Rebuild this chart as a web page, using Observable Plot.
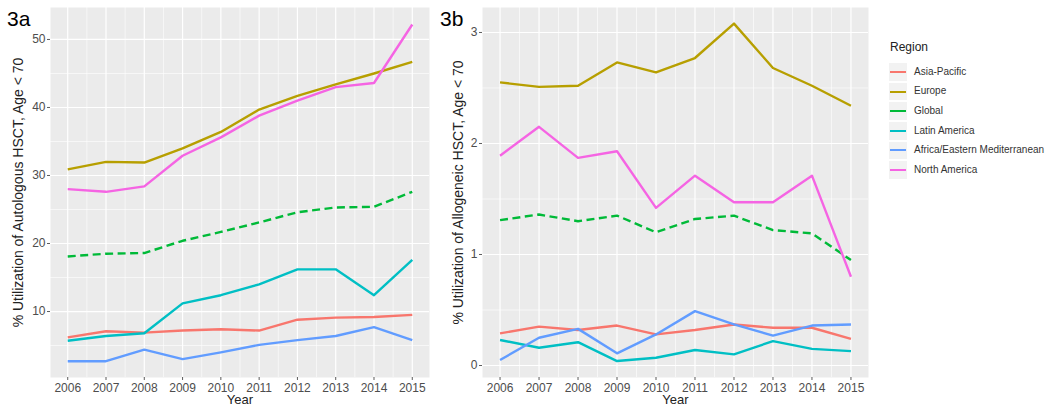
<!DOCTYPE html>
<html><head><meta charset="utf-8">
<script src="https://cdn.jsdelivr.net/npm/d3@7"></script>
<script src="https://cdn.jsdelivr.net/npm/@observablehq/plot@0.6"></script>
<style>
body{margin:0;background:#fff;font-family:"Liberation Sans",Arial,sans-serif;}
#wrap{position:relative;width:1050px;height:413px;overflow:hidden;background:#fff;}
.panel{position:absolute;top:0;}
.tag{position:absolute;top:8px;font-size:21px;line-height:21px;color:#000;}
#legend{position:absolute;left:888px;top:0;width:160px;height:413px;}
#legend .title{position:absolute;left:2px;top:40px;font-size:12px;color:#222;}
#legend .row{position:absolute;left:0;height:19.6px;width:160px;}
#legend .key{position:absolute;left:1px;top:1px;width:18px;height:17.6px;background:#F2F2F2;}
#legend .key span{position:absolute;left:1px;right:1px;top:7.8px;height:2px;}
#legend .lab{position:absolute;left:26px;top:3.5px;font-size:10px;color:#333;white-space:nowrap;}
</style></head><body>
<div id="wrap"></div>
<script>
const years = [2006, 2007, 2008, 2009, 2010, 2011, 2012, 2013, 2014, 2015];
const minorYears = [2006.5, 2007.5, 2008.5, 2009.5, 2010.5, 2011.5, 2012.5, 2013.5, 2014.5];
const regions = ["Asia-Pacific", "Europe", "Global", "Latin America", "Africa/Eastern Mediterranean", "North America"];
const regionColors = ["#F8766D", "#B79F00", "#00BA38", "#00BFC4", "#619CFF", "#F564E3"];

// 3a: autologous HSCT utilization (%)
const autoAsiaPacific = [6.2, 7.1, 6.9, 7.2, 7.4, 7.2, 8.8, 9.1, 9.2, 9.5];
const autoEurope      = [30.9, 32.0, 31.9, 34.0, 36.4, 39.7, 41.7, 43.4, 45.0, 46.7];
const autoGlobal      = [18.1, 18.5, 18.6, 20.4, 21.7, 23.1, 24.6, 25.3, 25.4, 27.6];
const autoLatinAm     = [5.7, 6.4, 6.8, 11.2, 12.4, 14.0, 16.2, 16.2, 12.4, 17.6];
const autoAfricaEMed  = [2.7, 2.7, 4.4, 3.0, 4.0, 5.1, 5.8, 6.4, 7.7, 5.8];
const autoNorthAm     = [28.0, 27.6, 28.4, 32.9, 35.6, 38.8, 41.0, 43.0, 43.6, 52.2];
const autoTicks = [10, 20, 30, 40, 50];
const autoMinor = [5, 15, 25, 35, 45];

// 3b: allogeneic HSCT utilization (%)
const alloAsiaPacific = [0.29, 0.35, 0.32, 0.36, 0.28, 0.32, 0.37, 0.34, 0.34, 0.24];
const alloEurope      = [2.55, 2.51, 2.52, 2.73, 2.64, 2.77, 3.08, 2.68, 2.52, 2.34];
const alloGlobal      = [1.31, 1.36, 1.30, 1.35, 1.20, 1.32, 1.35, 1.22, 1.19, 0.95];
const alloLatinAm     = [0.23, 0.16, 0.21, 0.04, 0.07, 0.14, 0.10, 0.22, 0.15, 0.13];
const alloAfricaEMed  = [0.05, 0.25, 0.33, 0.11, 0.28, 0.49, 0.37, 0.27, 0.36, 0.37];
const alloNorthAm     = [1.89, 2.15, 1.87, 1.93, 1.42, 1.71, 1.47, 1.47, 1.71, 0.80];
const alloTicks = [0, 1, 2, 3];
const alloMinor = [0.5, 1.5, 2.5];

function makePanel({series, yDomain, yTicks, yMinor, yTitle, width, marginLeft, marginRight, titleDx}) {
  const data = regions.flatMap((r, i) => years.map((yr, j) => ({region: r, year: yr, value: series[i][j]})));
  const lines = regions.map(r => Plot.line(data.filter(d => d.region === r), {
    x: "year", y: "value", stroke: "region", strokeWidth: 2.4,
    strokeLinecap: "butt", strokeLinejoin: "round",
    strokeDasharray: r === "Global" ? "8,4.5" : null
  }));
  return Plot.plot({
    width, height: 413,
    marginLeft, marginRight, marginTop: 7, marginBottom: 36,
    style: {background: "transparent", fontFamily: "'Liberation Sans', Arial, sans-serif"},
    x: {domain: [2005.55, 2015.45], axis: null},
    y: {domain: yDomain, axis: null},
    color: {domain: regions, range: regionColors},
    marks: [
      Plot.frame({fill: "#EBEBEB", stroke: null}),
      Plot.ruleX(minorYears, {stroke: "#fff", strokeWidth: 0.6}),
      Plot.ruleY(yMinor, {stroke: "#fff", strokeWidth: 0.6}),
      Plot.ruleX(years, {stroke: "#fff", strokeWidth: 1.2}),
      Plot.ruleY(yTicks, {stroke: "#fff", strokeWidth: 1.2}),
      ...lines,
      Plot.axisX({ticks: years, tickSize: 3, tickPadding: 3, tickFormat: d => String(d), fontSize: 12,
        stroke: "#333", fill: "#4D4D4D", strokeWidth: 0.8, label: null}),
      Plot.axisY({ticks: yTicks, tickSize: 3, tickPadding: 2, tickFormat: d => String(d), fontSize: 12,
        stroke: "#333", fill: "#4D4D4D", strokeWidth: 0.8, label: null}),
      Plot.text(["Year"], {frameAnchor: "bottom", dy: 26, fontSize: 13, fill: "#222"}),
      Plot.text([yTitle], {frameAnchor: "left", textAnchor: "middle", rotate: -90, dx: titleDx, fontSize: 14, fill: "#222"})
    ]
  });
}

const wrap = document.getElementById("wrap");

const p1 = makePanel({
  series: [autoAsiaPacific, autoEurope, autoGlobal, autoLatinAm, autoAfricaEMed, autoNorthAm],
  yDomain: [0.3, 54.7], yTicks: autoTicks, yMinor: autoMinor,
  yTitle: "% Utilization of Autologous HSCT, Age < 70",
  width: 430, marginLeft: 50, marginRight: 1, titleDx: -32
});
const d1 = document.createElement("div");
d1.className = "panel"; d1.style.left = "0px"; d1.style.width = "430px";
d1.appendChild(p1); wrap.appendChild(d1);

const p2 = makePanel({
  series: [alloAsiaPacific, alloEurope, alloGlobal, alloLatinAm, alloAfricaEMed, alloNorthAm],
  yDomain: [-0.108, 3.225], yTicks: alloTicks, yMinor: alloMinor,
  yTitle: "% Utilization of Allogeneic HSCT, Age < 70",
  width: 440, marginLeft: 52, marginRight: 2, titleDx: -24
});
const d2 = document.createElement("div");
d2.className = "panel"; d2.style.left = "430px"; d2.style.width = "440px";
d2.appendChild(p2); wrap.appendChild(d2);

// panel tags
[["3a", 7], ["3b", 440]].forEach(([t, x]) => {
  const el = document.createElement("div");
  el.className = "tag"; el.style.left = x + "px"; el.textContent = t;
  wrap.appendChild(el);
});

// legend
const lg = document.createElement("div");
lg.id = "legend";
const tt = document.createElement("div");
tt.className = "title"; tt.textContent = "Region";
lg.appendChild(tt);
regions.forEach((r, i) => {
  const row = document.createElement("div");
  row.className = "row";
  row.style.top = (62.2 + i * 19.6) + "px";
  const key = document.createElement("div");
  key.className = "key";
  const ln = document.createElement("span");
  ln.style.background = regionColors[i];
  key.appendChild(ln);
  const lab = document.createElement("div");
  lab.className = "lab"; lab.textContent = r;
  row.appendChild(key); row.appendChild(lab);
  lg.appendChild(row);
});
wrap.appendChild(lg);
</script>
</body></html>
